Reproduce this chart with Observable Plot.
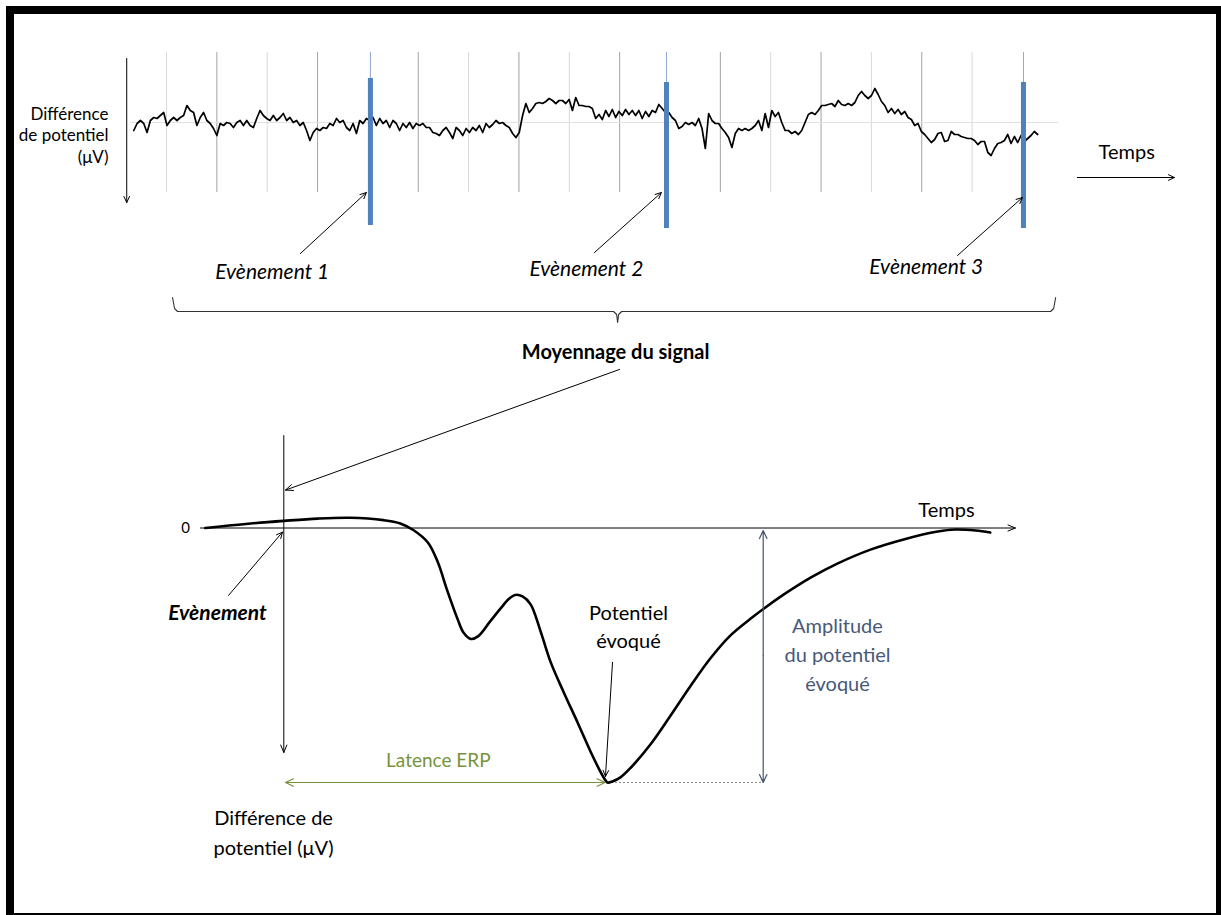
<!DOCTYPE html>
<html><head><meta charset="utf-8">
<script src="https://cdn.jsdelivr.net/npm/d3@7"></script>
<script src="https://cdn.jsdelivr.net/npm/@observablehq/plot@0.6"></script>
<style>
body{margin:0;background:#fff;}
#wrap{position:relative;width:1221px;height:915px;overflow:hidden;background:#fff;font-family:Lato,sans-serif;}
#wrap svg{position:absolute;left:0;top:0;}
#frame{position:absolute;left:6px;top:6px;width:1215px;height:909px;box-sizing:border-box;border-style:solid;border-color:#000;border-width:8px 5px 2px 8px;pointer-events:none;}
</style></head><body>
<div id="wrap"><div id="frame"></div></div>
<script>
// ---------- TOP: raw EEG (time in s, potential in arbitrary µV units, positive down) ----------
const eegStart = 0.35, eegStep = 0.066;
const eegValues = [
 8,1,-2,1,10,-2,-5,-4,-7,-10, 3,-2,-5,-2,-5,-7,-17,-12,-10,3,
 -5,-10,-2,1,6,13,1,3,0,1, 5,0,-2,3,-2,3,5,-4,-12,-7,
 -4,-2,-7,-2,-5,-9,-2,-5,0,-2, 3,0,8,18,10,6,8,5,6,1,
 3,-4,0,-2,5,8,1,11,-2,1, -4,-2,-5,3,-4,1,-2,5,-2,1,
 8,1,5,0,6,1,3,1,5,
 5,10,11,13,8,5,10,16,5,8, 13,6,10,5,8,3,10,1,5,2,
 -2,1,0,3,5,11,15,10,-7,-19, -10,-14,-19,-20,-19,-21,-24,-22,-19,-22,
 -22,-19,-23,-12,-25,-17,-17,-16,-16,-14, -4,-8,-3,-12,-6,-13,-5,-11,-7,-13,
 -8,-12,-7,-12,-4,-11,-6,-12,-10,-18, -14,-10,-10,-5,-2,6,4,0,2,0,
 3,-4,6,26,-9,-2,1,1,6,10, 15,25,11,
 6,8,6,8,6,3,-2,8,-9,5, -12,-6,-10,0,8,8,11,9,12,8,
 0,-8,-10,-8,-12,-17,-17,-18,-19,-16, -22,-18,-17,-19,-17,-20,-27,-31,-27,-24,
 -27,-34,-28,-21,-17,-10,-14,-9,-13,-8, -11,-5,-3,3,1,9,12,16,20,17,
 11,10,19,18,9,12,12,14,15,16, 16,18,22,19,19,30,33,26,21,20,
 18,12,21,14,20,13,19,16,13,9, 12
];
const gridTimes = [1,2,3,4,6,7,8,9,10,12,13,14,15,16,17];
const eventTimes = [5.05, 10.93, 18.02];
const eventBarTop = [-44, -40, -40];
const eventBarBottom = [103, 106, 106];
const eventLabels = ["Evènement 1", "Evènement 2", "Evènement 3"];
const eventLabelT = [3.1, 9.34, 16.09];
const eventLabelV = [150, 147, 145];
const eventArrowFrom = [[3.66, 131], [9.50, 130], [16.71, 133]];
const eventArrowTo = [[4.97, 70], [10.83, 70], [18.0, 75]];
const braceT = [1.12, 1.16, 1.22, 9.88, 9.94, 9.96, 9.98, 10.04, 18.56, 18.62, 18.66];
const braceV = [175, 186, 189, 189, 192, 200, 192, 189, 189, 186, 175];

// ---------- BOTTOM: averaged ERP (time in ms, amplitude in µV, positive down) ----------
const erpTime = [-97,-47,0,42,82,123,144,160,178,190,202,215,222,231,240,255,268,278,286,295,305,317,330,346,363,379,391,396,400,406,416,429,453,478,503,527,552,577,593,618,651,684,725,766,808,830,855,873];
const erpAmp  = [0,-0.16,-0.28,-0.37,-0.4,-0.31,-0.18,0.08,0.57,1.32,2.46,3.6,4.11,4.36,4.26,3.67,3.16,2.79,2.63,2.69,3.0,4.03,5.29,6.46,7.64,8.78,9.56,9.84,10,9.96,9.8,9.41,8.51,7.37,6.19,5.13,4.22,3.56,3.17,2.61,1.95,1.4,0.85,0.45,0.14,0.06,0.1,0.18];
const peakLatency = 400, peakAmplitude = 10;

const eeg = eegValues.map((v, i) => ({t: eegStart + i * eegStep, v}));
const events = eventTimes.map((t, i) => ({t, top: eventBarTop[i], bottom: eventBarBottom[i], label: eventLabels[i], lt: eventLabelT[i], lv: eventLabelV[i],
  x1: eventArrowFrom[i][0], y1: eventArrowFrom[i][1], x2: eventArrowTo[i][0], y2: eventArrowTo[i][1]}));
const brace = braceT.map((t, i) => ({t, v: braceV[i]}));
const erp = erpTime.map((ms, i) => ({ms, uv: erpAmp[i]}));

const wrap = document.getElementById("wrap");
const frame = document.getElementById("frame");
const arrowOpts = {x1: "x1", y1: "y1", x2: "x2", y2: "y2", stroke: "#000", strokeWidth: 1, headLength: 10, headAngle: 50};

const topPlot = Plot.plot({
  width: 1221, height: 915, margin: 0,
  x: {domain: [0, 20], range: [115.65, 1122.65], axis: null},
  y: {domain: [0, 100], range: [122, 222], axis: null},
  style: {background: "transparent", fontFamily: "Lato, sans-serif", overflow: "visible"},
  marks: [
    Plot.ruleX(gridTimes, {x: d => d, y1: -70, y2: 70, stroke: d => d % 2 ? "#d9d9d9" : "#a3a3a3", strokeWidth: 1}),
    Plot.ruleY([0], {x1: 0.29, x2: 18.72, stroke: "#e2e2e2"}),
    Plot.ruleX(events, {x: "t", y1: -70, y2: "top", stroke: "#8ea8d8", strokeWidth: 1}),
    Plot.line(eeg, {x: "t", y: "v", stroke: "#000", strokeWidth: 1.7}),
    Plot.ruleX(events, {x: "t", y1: "top", y2: "bottom", stroke: "#4f81bd", strokeWidth: 5}),
    Plot.arrow(events, arrowOpts),
    Plot.text(events, {x: "lt", y: "lv", text: "label", fontSize: 21, fontStyle: "italic", fill: "#000"}),
    Plot.line(brace, {x: "t", y: "v", stroke: "#333", strokeWidth: 1.1}),
    Plot.arrow([{x1: 0.21, y1: -64, x2: 0.21, y2: 80}], arrowOpts),
    Plot.text(["Différence\nde potentiel\n(μV)"], {x: -0.152, y: 12, text: d => d, textAnchor: "end", fontSize: 17, lineHeight: 1.25, fill: "#000"}),
    Plot.arrow([{x1: 19.09, y1: 55, x2: 21.02, y2: 55}], arrowOpts),
    Plot.text(["Temps"], {x: 20.07, y: 30, text: d => d, fontSize: 20, fill: "#000"})
  ]
});

const bottomPlot = Plot.plot({
  width: 1221, height: 915, margin: 0,
  x: {domain: [0, 400], range: [283.3, 607], axis: null},
  y: {domain: [0, 10], range: [527.5, 782], axis: null},
  style: {background: "transparent", fontFamily: "Lato, sans-serif", overflow: "visible"},
  marks: [
    Plot.text(["Moyennage du signal"], {x: 410, y: -6.9, text: d => d, fontSize: 20, fontWeight: "bold", fill: "#000"}),
    Plot.arrow([{x1: 414.8, y1: -6.23, x2: 2.1, y2: -1.49}], {...arrowOpts, headLength: 12, headAngle: 45}),
    Plot.arrow([{x1: 0, y1: -3.63, x2: 0, y2: 8.82}], {...arrowOpts, headLength: 12, headAngle: 45}),
    Plot.arrow([{x1: -103, y1: 0, x2: 904, y2: 0}], {...arrowOpts, headLength: 12, headAngle: 45}),
    Plot.text(["0"], {x: -121.5, y: 0, text: d => d, fontSize: 15, fill: "#000"}),
    Plot.text(["Temps"], {x: 818.9, y: -0.69, text: d => d, fontSize: 20, fill: "#000"}),
    Plot.ruleY([peakAmplitude], {x1: peakLatency, x2: 592.4, stroke: "#8c8c8c", strokeDasharray: "2,2", strokeWidth: 1}),
    Plot.line(erp, {x: "ms", y: "uv", curve: "catmull-rom", stroke: "#000", strokeWidth: 2.6}),
    Plot.arrow([{x1: -68.3, y1: 2.65, x2: -1.6, y2: 0.16}], arrowOpts),
    Plot.text(["Evènement"], {x: -82, y: 3.36, text: d => d, fontSize: 21, fontWeight: "bold", fontStyle: "italic", fill: "#000"}),
    Plot.text(["Potentiel\névoqué"], {x: 425.9, y: 3.83, text: d => d, fontSize: 20, lineHeight: 1.4, fill: "#000"}),
    Plot.arrow([{x1: 406.2, y1: 5.28, x2: 397.5, y2: 9.76}], arrowOpts),
    Plot.arrow([{x1: 592.4, y1: 5, x2: 592.4, y2: 0.1}, {x1: 592.4, y1: 5, x2: 592.4, y2: peakAmplitude}], {...arrowOpts, stroke: "#44546a", strokeWidth: 1.2, headLength: 11}),
    Plot.text(["Amplitude\ndu potentiel\névoqué"], {x: 684.2, y: 4.91, text: d => d, fontSize: 20, lineHeight: 1.45, fill: "#47597a"}),
    Plot.arrow([{x1: 200, y1: peakAmplitude, x2: 2.1, y2: peakAmplitude}, {x1: 200, y1: peakAmplitude, x2: 397, y2: peakAmplitude}], {...arrowOpts, stroke: "#77933c", strokeWidth: 1.2, headLength: 11}),
    Plot.text(["Latence ERP"], {x: 191, y: 9.14, text: d => d, fontSize: 19, fill: "#77933c"}),
    Plot.text(["Différence de\npotentiel (μV)"], {x: -12.7, y: 11.89, text: d => d, fontSize: 20, lineHeight: 1.5, fill: "#000"})
  ]
});

wrap.insertBefore(topPlot, frame);
wrap.insertBefore(bottomPlot, frame);
</script>
</body></html>
